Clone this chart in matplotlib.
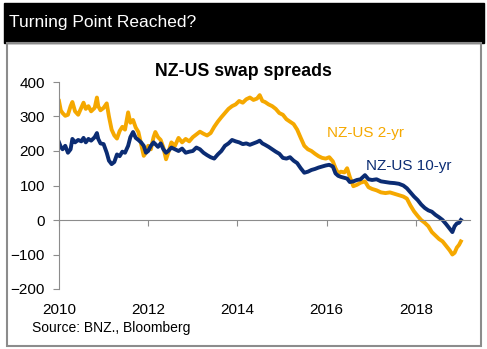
import numpy as np
import matplotlib.pyplot as plt
from matplotlib.patches import Rectangle

plt.rcParams['font.family'] = ['Liberation Sans', 'DejaVu Sans']

# dates as decimal years
dates = [2010.00, 2010.04, 2010.08, 2010.14, 2010.20, 2010.26, 2010.30, 2010.36, 2010.43, 2010.50,
         2010.55, 2010.60, 2010.66, 2010.72, 2010.80, 2010.85, 2010.88, 2010.93, 2011.00, 2011.07,
         2011.12, 2011.18, 2011.24, 2011.30, 2011.36, 2011.42, 2011.48, 2011.55, 2011.60, 2011.66,
         2011.72, 2011.78, 2011.84, 2011.90, 2011.95, 2012.00, 2012.06, 2012.12, 2012.16, 2012.22,
         2012.28, 2012.34, 2012.40, 2012.45, 2012.52, 2012.60, 2012.68, 2012.76, 2012.84, 2012.92,
         2013.00, 2013.08, 2013.16, 2013.24, 2013.32, 2013.40, 2013.48, 2013.56, 2013.64, 2013.72,
         2013.80, 2013.88, 2013.96, 2014.04, 2014.12, 2014.20, 2014.28, 2014.36, 2014.44, 2014.50,
         2014.56, 2014.62, 2014.70, 2014.78, 2014.86, 2014.94, 2015.02, 2015.10, 2015.18, 2015.26,
         2015.34, 2015.42, 2015.50, 2015.58, 2015.66, 2015.74, 2015.82, 2015.90, 2015.98, 2016.06,
         2016.14, 2016.20, 2016.26, 2016.32, 2016.40, 2016.46, 2016.52, 2016.60, 2016.68, 2016.76,
         2016.86, 2016.94, 2017.02, 2017.12, 2017.22, 2017.32, 2017.42, 2017.52, 2017.62, 2017.72,
         2017.80, 2017.88, 2017.96, 2018.04, 2018.12, 2018.20, 2018.28, 2018.36, 2018.44, 2018.52,
         2018.60, 2018.68, 2018.76, 2018.82, 2018.87, 2018.92, 2018.97, 2019.01]

# NZ-US 2-yr swap spread (bp)
spread_2yr = [345, 318, 310, 302, 305, 330, 342, 315, 305, 325,
              340, 322, 330, 315, 325, 355, 330, 318, 325, 338,
              300, 262, 245, 236, 258, 270, 262, 312, 282, 290,
              268, 255, 220, 186, 195, 215, 205, 240, 255, 240,
              232, 210, 176, 195, 225, 215, 238, 225, 235, 228,
              240, 248, 256, 250, 245, 252, 270, 285, 298, 310,
              322, 330, 335, 345, 340, 350, 355, 348, 352, 362,
              345, 342, 335, 330, 322, 310, 305, 292, 285, 278,
              262, 238, 215, 205, 200, 192, 185, 180, 178, 182,
              170, 150, 135, 140, 138, 150, 125, 98, 102, 108,
              112, 95, 90, 86, 80, 78, 80, 76, 72, 68,
              62, 42, 25, 12, 0, -8, -18, -35, -45, -55,
              -62, -75, -88, -100, -95, -80, -72, -62]

# NZ-US 10-yr swap spread (bp)
spread_10yr = [225, 212, 205, 215, 195, 205, 235, 225, 232, 228,
               238, 225, 235, 230, 240, 252, 235, 222, 220, 195,
               172, 162, 168, 190, 185, 198, 195, 215, 240, 255,
               238, 232, 225, 215, 195, 200, 215, 225, 220, 212,
               222, 205, 195, 200, 210, 205, 200, 207, 195, 198,
               200, 210, 205, 195, 188, 182, 178, 190, 200, 215,
               222, 232, 228, 225, 220, 222, 218, 222, 226, 230,
               222, 218, 212, 205, 198, 192, 180, 178, 182, 172,
               165, 150, 137, 140, 145, 148, 152, 155, 158, 160,
               155, 135, 128, 125, 122, 120, 110, 112, 116, 118,
               130, 118, 116, 118, 112, 110, 108, 107, 105, 100,
               92, 80, 68, 58, 45, 35, 28, 24, 15, 8,
               0, -12, -25, -35, -18, -10, -8, 0]

years = [2010, 2012, 2014, 2016, 2018]
yticks = [-200, -100, 0, 100, 200, 300, 400]

orange = '#F5A800'
navy = '#0B2C73'
grey = '#8C8C8C'

fig = plt.figure(figsize=(4.87, 3.49), dpi=100)

# black header band and outer frame
fig.patches.append(Rectangle((4 / 487, 1 - 43 / 349), 480 / 487, 40 / 349,
                             transform=fig.transFigure, color='black', zorder=0))
fig.patches.append(Rectangle((7 / 487, 1 - 346 / 349), 474 / 487, 303 / 349,
                             transform=fig.transFigure, fill=False, edgecolor=grey,
                             linewidth=1.5, zorder=0))
fig.text(9 / 487, 1 - 23 / 349, 'Turning Point Reached?', color='white',
         fontsize=12.5, va='center', ha='left')
fig.text(243 / 487, 1 - 71 / 349, 'NZ-US swap spreads', fontsize=12.8,
         fontweight='bold', va='center', ha='center')
fig.text(32 / 487, 1 - 328 / 349, 'Source: BNZ., Bloomberg', fontsize=10,
         va='center', ha='left')

ax = fig.add_axes([59 / 487, 1 - 289 / 349, 411 / 487, 207 / 349])
ax.plot(dates, spread_2yr, color=orange, lw=2.8, solid_joinstyle='round')
ax.plot(dates, spread_10yr, color=navy, lw=2.8, solid_joinstyle='round')

ax.set_xlim(2010, 2010 + 411 / 44.6)
ax.set_ylim(-200, 400)
ax.set_yticks(yticks)
ax.set_xticks(years)

for s in ['top', 'right']:
    ax.spines[s].set_visible(False)
ax.spines['left'].set_color(grey)
ax.spines['bottom'].set_color(grey)
ax.spines['bottom'].set_position(('data', 0))
ax.tick_params(axis='y', length=4, color=grey, labelsize=11, pad=6)
ax.tick_params(axis='x', length=4, color=grey, labelbottom=False)

sec = ax.secondary_xaxis(0)
sec.set_xticks(years)
sec.tick_params(length=0, labelsize=11, pad=10)
sec.spines['bottom'].set_visible(False)

ax.text(2016.01, 252, 'NZ-US 2-yr', color=orange, fontsize=11, va='center')
ax.text(2016.88, 157, 'NZ-US 10-yr', color=navy, fontsize=11, va='center')

ax.annotate('', xy=(2019.25, -84), xytext=(2018.95, -137),
            arrowprops=dict(arrowstyle='-|>', color='#5B8CCB', lw=1.2,
                            mutation_scale=10))

fig.savefig('out.png', dpi=100)
